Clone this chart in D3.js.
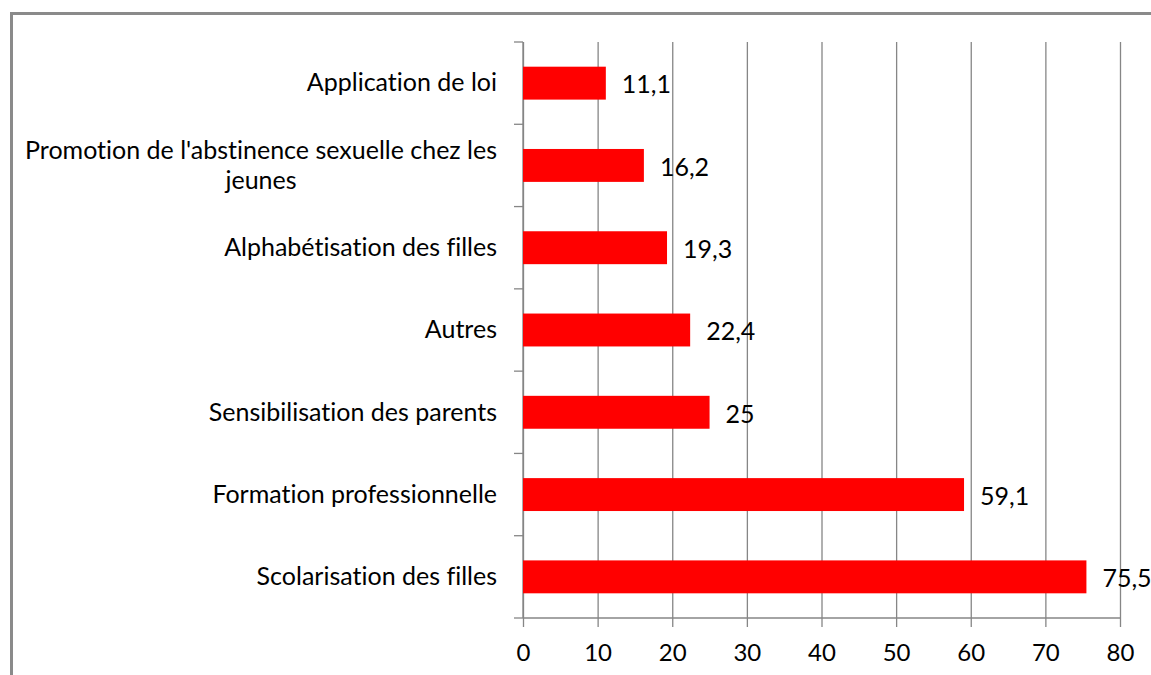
<!DOCTYPE html>
<html>
<head>
<meta charset="utf-8">
<script src="https://cdn.jsdelivr.net/npm/d3@7"></script>
<style>
  html, body { margin: 0; padding: 0; background: #fff; overflow: hidden; }
  svg { display: block; }
  text { font-family: Lato, "Open Sans", sans-serif; fill: #000; font-variant-ligatures: none; }
</style>
</head>
<body>
<svg id="chart" width="1151" height="675"></svg>
<script>
// ---- data ----
const categories = [
  "Application de loi",
  "Promotion de l'abstinence sexuelle chez les\njeunes",
  "Alphabétisation des filles",
  "Autres",
  "Sensibilisation des parents",
  "Formation professionnelle",
  "Scolarisation des filles"
];
const values = [11.1, 16.2, 19.3, 22.4, 25, 59.1, 75.5];
const tickValues = [0, 10, 20, 30, 40, 50, 60, 70, 80];
const valueLabels = ["11,1", "16,2", "19,3", "22,4", "25", "59,1", "75,5"];

const svg = d3.select("#chart");
const W = 1151, H = 675;
const m = { left: 523, right: 31, top: 42, bottom: 57 };
const gridColor = "#868686";
const fontSize = 25;
const tickFontSize = 24;

// outer frame
svg.append("rect")
  .attr("x", 11.5).attr("y", 13.5)
  .attr("width", 1300).attr("height", 800)
  .attr("fill", "none").attr("stroke", "#8a8a8a").attr("stroke-width", 3);

const x = d3.scaleLinear().domain([0, 80]).range([m.left, W - m.right]);
const y = d3.scaleBand().domain(categories).range([m.top, H - m.bottom])
  .paddingInner(0.6).paddingOuter(0.3);

const plotBottom = H - m.bottom;

// vertical gridlines + x ticks
const xAxis = d3.axisBottom(x).tickValues(tickValues)
  .tickSize(plotBottom - m.top + 9).tickSizeOuter(0)
  .tickFormat(d3.format("d"));
const gx = svg.append("g").attr("transform", `translate(0,${m.top})`).call(xAxis);
gx.select(".domain").remove();
gx.selectAll(".tick line").attr("stroke", gridColor).attr("stroke-width", 1.3);
gx.selectAll(".tick text")
  .attr("font-size", tickFontSize).attr("fill", "#000")
  .attr("font-family", "Lato, 'Open Sans', sans-serif")
  .attr("y", plotBottom - m.top + 26);

// bottom axis line
svg.append("line")
  .attr("x1", x(0)).attr("x2", x(80))
  .attr("y1", plotBottom).attr("y2", plotBottom)
  .attr("stroke", gridColor).attr("stroke-width", 1.3);

// y axis with category boundary ticks
const edges = categories.map(c => y(c) - y.step() * y.paddingInner() / 2);
edges.push(plotBottom);
svg.append("line")
  .attr("x1", x(0)).attr("x2", x(0))
  .attr("y1", m.top).attr("y2", plotBottom)
  .attr("stroke", gridColor).attr("stroke-width", 1.3);
svg.append("g").selectAll("line").data(edges).join("line")
  .attr("x1", x(0) - 9).attr("x2", x(0))
  .attr("y1", d => d).attr("y2", d => d)
  .attr("stroke", gridColor).attr("stroke-width", 1.3);

// bars
svg.append("g").selectAll("rect").data(values).join("rect")
  .attr("x", x(0))
  .attr("y", (d, i) => y(categories[i]))
  .attr("width", d => x(d) - x(0))
  .attr("height", y.bandwidth())
  .attr("fill", "#ff0000");

// value labels
svg.append("g").selectAll("text").data(values).join("text")
  .attr("x", d => x(d) + 16)
  .attr("y", (d, i) => y(categories[i]) + y.bandwidth() / 2 + 4)
  .attr("dominant-baseline", "middle")
  .attr("font-size", fontSize)
  .text((d, i) => valueLabels[i]);

// category labels
const labelRight = x(0) - 26;
const lineH = 30;
categories.forEach(c => {
  const lines = c.split("\n");
  const cy = y(c) + y.bandwidth() / 2 + 2;
  const g = svg.append("g");
  const texts = lines.map((ln, j) => g.append("text")
    .attr("font-size", fontSize)
    .attr("dominant-baseline", "middle")
    .attr("y", cy + (j - (lines.length - 1) / 2) * lineH)
    .text(ln));
  if (lines.length === 1) {
    texts[0].attr("x", labelRight).attr("text-anchor", "end");
  } else {
    const maxW = d3.max(texts, t => t.node().getComputedTextLength());
    texts.forEach(t => t.attr("x", labelRight - maxW / 2).attr("text-anchor", "middle"));
  }
});
</script>
</body>
</html>
